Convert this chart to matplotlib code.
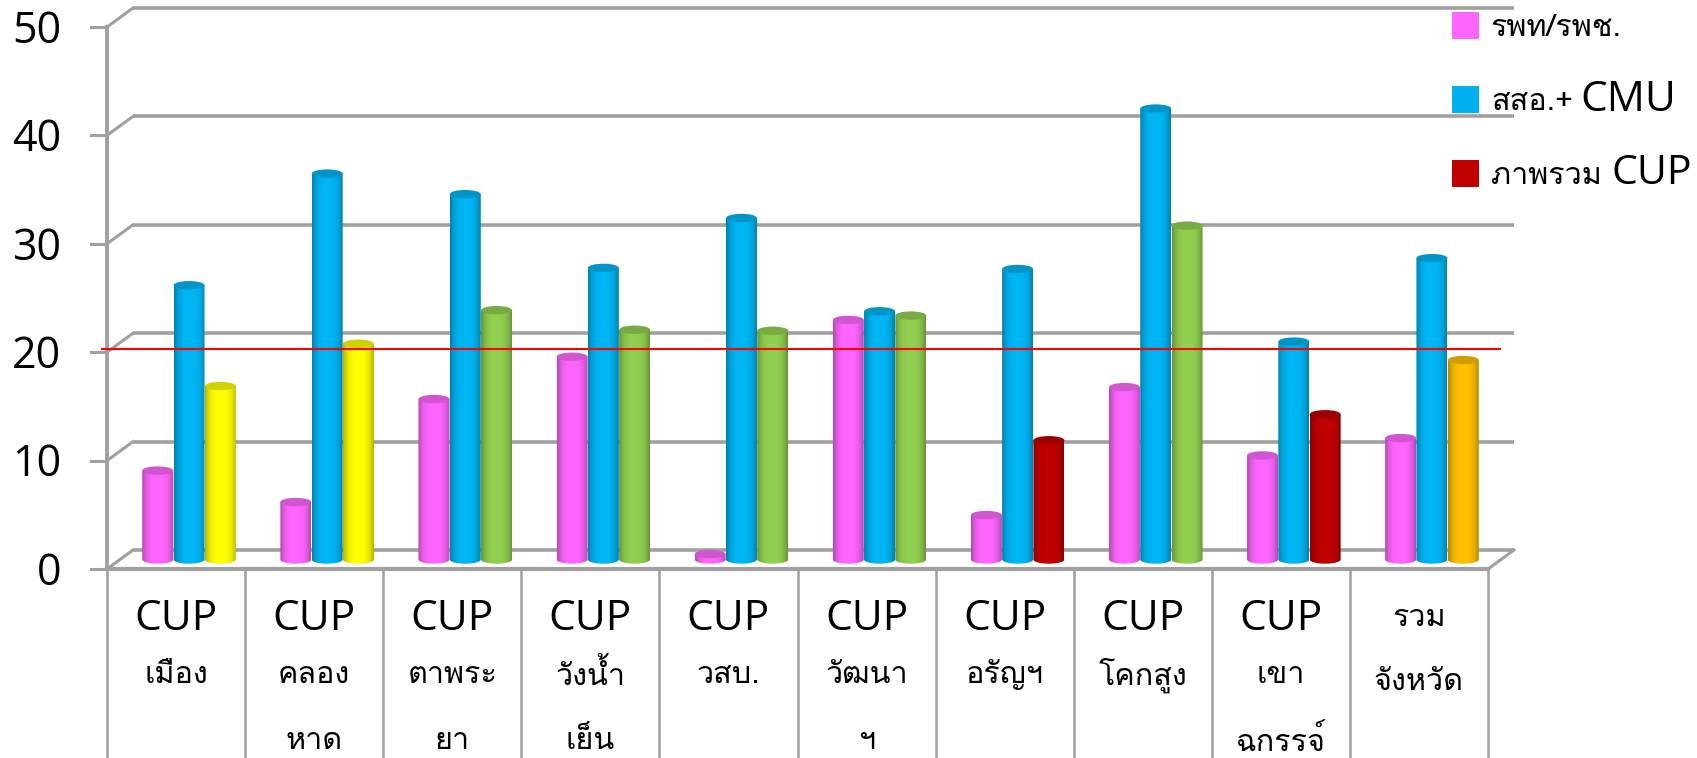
import numpy as np
import matplotlib
matplotlib.use('Agg')
import matplotlib.pyplot as plt
from matplotlib.path import Path
from matplotlib.patches import PathPatch, Ellipse, Rectangle
from matplotlib.colors import to_rgb

categories = ['เมือง', 'คลองหาด', 'ตาพระยา', 'วังน้ำเย็น', 'วสบ.', 'วัฒนาฯ', 'อรัญฯ', 'โคกสูง', 'เขาฉกรรจ์', 'รวมจังหวัด']
label_top = ['CUP'] * 9 + ['รวม']
label_mid = ['เมือง', 'คลอง', 'ตาพระ', 'วังน้ำ', 'วสบ.', 'วัฒนา', 'อรัญฯ', 'โคกสูง', 'เขา', 'จังหวัด']
label_low = ['', 'หาด', 'ยา', 'เย็น', '', 'ฯ', '', '', 'ฉกรรจ์', '']

hospital = [8.2, 5.3, 14.8, 18.7, 0.5, 22.1, 4.1, 15.9, 9.6, 11.2]
health_centre = [25.3, 35.6, 33.7, 26.9, 31.5, 22.9, 26.8, 41.6, 20.1, 27.8]
overview = [16.0, 19.9, 23.0, 21.2, 21.1, 22.5, 11.0, 30.8, 13.4, 18.4]
overview_colors = ['#FFFF00', '#FFFF00', '#92D050', '#92D050', '#92D050', '#92D050',
                   '#C00000', '#92D050', '#C00000', '#FFC000']
hospital_color = '#FF66FF'
centre_color = '#00B6F5'
target = 19.4
y_ticks = [0, 10, 20, 30, 40, 50]
legend_colors = ['#FF66FF', '#00B0F0', '#C00000']

W, H = 1697, 758
THAI = ['Loma', 'Open Sans']
LATIN = 'Open Sans'
GREY = '#A0A0A0'

fig = plt.figure(figsize=(W / 100, H / 100), dpi=100)
ax = fig.add_axes([0, 0, 1, 1])
PX = 138.1      # px per category
PY = 10.84      # px per unit
X0, Y0 = 107, 559.5
ax.set_xlim(-X0 / PX, (W - X0) / PX)
ax.set_ylim(-(H - Y0) / PY, Y0 / PY)
ax.axis('off')
DX = 13 / PX    # half depth of the 3-D box, category units
DY = 9.5 / PY   # half depth of the 3-D box, value units
N = len(categories)


def px(x, y):
    return x / W, 1 - y / H


# back wall and side wall
for v in y_ticks:
    ax.plot([2 * DX, N + 2 * DX], [v + DY, v + DY], color=GREY, lw=2.6, zorder=1, solid_capstyle='butt')
    ax.plot([0, 2 * DX], [v - DY, v + DY], color=GREY, lw=2.2, zorder=1)
    ax.plot([-16 / PX, 0], [v - DY, v - DY], color=GREY, lw=2.2, zorder=1)
# left vertical axis
ax.plot([0, 0], [-DY, 50 - DY], color=GREY, lw=2.8, zorder=5)
# floor
ax.plot([0, N], [-DY, -DY], color=GREY, lw=3.0, zorder=1.5)
ax.plot([N, N + 2 * DX], [-DY, DY], color=GREY, lw=2.2, zorder=1.5)
# table dividers
low = -(H - Y0) / PY
for i in range(N + 1):
    ax.plot([i, i], [-DY, low], color=GREY, lw=1.8, zorder=1)

BW = 31.0 / PX
RY = 4.2 / PY


def cylinder(xc, v, color, z):
    rgb = np.array(to_rgb(color))
    x0, x1 = xc - BW / 2, xc + BW / 2
    th = np.linspace(np.pi, 2 * np.pi, 40)
    bx = xc + BW / 2 * np.cos(th)
    by = RY * np.sin(th)
    verts = list(zip(bx, by)) + [(x1, v), (x0, v), (x0, by[0])]
    codes = [Path.MOVETO] + [Path.LINETO] * (len(verts) - 2) + [Path.CLOSEPOLY]
    clip = PathPatch(Path(verts, codes), transform=ax.transData, fc='none', ec='none')
    ax.add_patch(clip)
    t = np.linspace(-1, 1, 64)
    shade = 1 - 0.30 * np.abs(t) ** 3.0
    img = (rgb[None, :] * shade[:, None])[None, :, :]
    im = ax.imshow(img, extent=[x0, x1, -RY, v], aspect='auto', zorder=z, interpolation='bilinear')
    im.set_clip_path(clip)
    ax.add_patch(Ellipse((xc, v), BW, 2 * RY, fc=rgb * 0.82, ec='none', zorder=z + 0.01))


OFF = 0.5 + DX
STEP = 31.3 / PX
for i in range(N):
    xc = i + OFF
    cylinder(xc - STEP, hospital[i], hospital_color, 2 + 0.1 * i)
    cylinder(xc, health_centre[i], centre_color, 2.03 + 0.1 * i)
    cylinder(xc + STEP, overview[i], overview_colors[i], 2.06 + 0.1 * i)
ax.set_xlim(-X0 / PX, (W - X0) / PX)
ax.set_ylim(-(H - Y0) / PY, Y0 / PY)

# target line
ax.plot([-5 / PX, (1500 - X0) / PX], [target, target], color='#FF0000', lw=1.5, zorder=6)

# y tick labels
for v in y_ticks:
    ax.text(-46 / PX, v - DY - 4.5 / PY, str(v), ha='right', va='center', fontsize=31,
            family=LATIN, color='black', zorder=7)

# category labels
for i in range(N):
    xc = i + 0.5
    if label_top[i] == 'CUP':
        ax.text(xc, (Y0 - 619) / PY, label_top[i], ha='center', va='center', fontsize=30.5, family=LATIN)
        ax.text(xc, (Y0 - 675) / PY, label_mid[i], ha='center', va='center', fontsize=22, family=THAI)
    else:
        ax.text(xc, (Y0 - 618) / PY, label_top[i], ha='center', va='center', fontsize=22, family=THAI)
        ax.text(xc, (Y0 - 682) / PY, label_mid[i], ha='center', va='center', fontsize=22, family=THAI)
    if label_low[i]:
        ax.text(xc, (Y0 - 741) / PY, label_low[i], ha='center', va='center', fontsize=22, family=THAI)

# legend
rows = [(12, 'รพท/รพช.', '', None, None),
        (86, 'สสอ.+', 'CMU', 1580, 30.5),
        (160, 'ภาพรวม', 'CUP', 1612, 29.5)]
for (y, th, lat, lx, fs), c in zip(rows, legend_colors):
    fx, fy = px(1452, y + 27)
    fig.add_artist(Rectangle((fx, fy), 27 / W, 27 / H, transform=fig.transFigure, fc=c, ec='none'))
    tx, ty = px(1491, y + 16)
    fig.text(tx, ty, th, ha='left', va='center', fontsize=22, family=THAI)
    if lat:
        tx, ty = px(lx, y + 14)
        fig.text(tx, ty, lat, ha='left', va='center', fontsize=fs, family=LATIN)

fig.savefig('out.png', dpi=100)
